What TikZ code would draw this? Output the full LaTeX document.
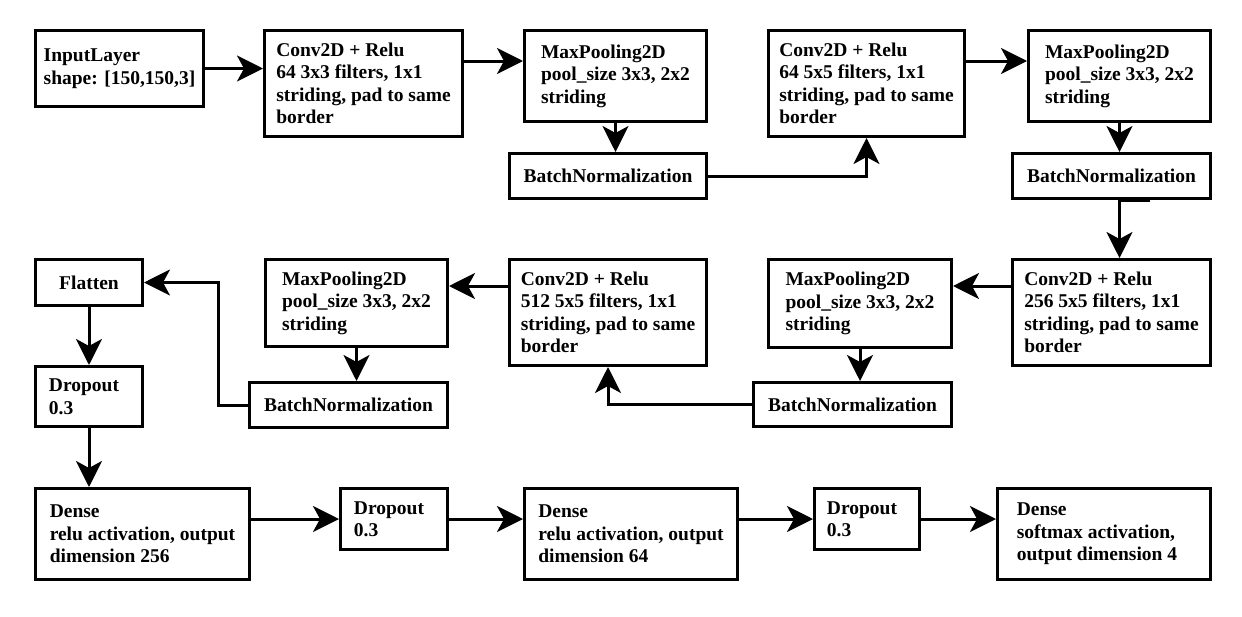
\documentclass[tikz,border=0pt]{standalone}
\usepackage{fontspec}
\setmainfont{Liberation Serif}
\usetikzlibrary{arrows.meta,calc}
\tikzset{
  layer/.style={draw, line width=3pt, fill=white, align=left, inner sep=0pt,
    font=\bfseries\fontsize{19.5}{22.5}\selectfont},
  conn/.style={line width=3pt, -{Stealth[length=26pt,width=26pt,inset=7pt]}},
}
\newcommand{\LayerBox}[6]{%
  \node[layer, minimum width={(#4-#2-3)*1pt}, minimum height={(#5-#3-3)*1pt}]
    (#1) at ({(#2+#4)/2},{(#3+#5)/2}) {#6};}
\begin{document}
\begin{tikzpicture}[x=1pt,y=-1pt]
\useasboundingbox[fill=white] (0,0) rectangle (1242,616);
% row 1
\LayerBox{in}{34}{29}{205}{108}{InputLayer\\shape: [150,150,3]}
\LayerBox{c1}{263}{29}{464}{138}{Conv2D + Relu\\64 3x3 filters, 1x1\\striding, pad to same\\border}
\LayerBox{mp1}{523}{29}{708}{123}{MaxPooling2D\\pool\_size 3x3, 2x2\\striding}
\LayerBox{bn1}{508}{152}{708}{200}{BatchNormalization}
\LayerBox{c2}{767}{29}{966}{138}{Conv2D + Relu\\64 5x5 filters, 1x1\\striding, pad to same\\border}
\LayerBox{mp2}{1027}{29}{1212}{123}{MaxPooling2D\\pool\_size 3x3, 2x2\\striding}
\LayerBox{bn2}{1011}{152}{1212}{200}{BatchNormalization}
% row 2
\LayerBox{c3}{1011}{258}{1212}{367}{Conv2D + Relu\\256 5x5 filters, 1x1\\striding, pad to same\\border}
\LayerBox{mp4}{767}{258}{953}{349}{MaxPooling2D\\pool\_size 3x3, 2x2\\striding}
\LayerBox{bn4}{752}{381}{953}{428}{BatchNormalization}
\LayerBox{c4}{508}{258}{708}{367}{Conv2D + Relu\\512 5x5 filters, 1x1\\striding, pad to same\\border}
\LayerBox{mp3}{264}{258}{449}{348}{MaxPooling2D\\pool\_size 3x3, 2x2\\striding}
\LayerBox{bn3}{248}{381}{449}{429}{BatchNormalization}
\LayerBox{fl}{34}{258}{144}{307}{Flatten}
\LayerBox{do1}{34}{365}{144}{428}{Dropout\hspace*{10pt}\\0.3}
% row 3
\LayerBox{d1}{34}{487}{251}{581}{Dense\\relu activation, output\hspace*{4pt}\\dimension 256}
\LayerBox{do2}{339}{487}{449}{551}{Dropout\hspace*{10pt}\\0.3}
\LayerBox{d2}{523}{487}{739}{581}{Dense\\relu activation, output\\dimension 64}
\LayerBox{do3}{813}{487}{921}{551}{Dropout\hspace*{10pt}\\0.3}
\LayerBox{d3}{996}{487}{1212}{581}{Dense\\softmax activation,\\output dimension 4\hspace*{14pt}}
% connectors
\draw[conn] (in.east) -- (in.east -| c1.west);
\draw[conn] ([yshift=-32pt]c1.north east) -- ([yshift=-32pt]c1.north east -| mp1.west);
\draw[conn] (mp1.south) -- (mp1.south |- bn1.north);
\draw[conn] (bn1.east) -| (c2.south);
\draw[conn] ([yshift=-32pt]c2.north east) -- ([yshift=-32pt]c2.north east -| mp2.west);
\draw[conn] (mp2.south) -- (mp2.south |- bn2.north);
\draw[conn] (mp2.south |- bn2.south) -- (mp2.south |- c3.north);
\draw[line width=2pt] ([yshift=-1pt]mp2.south |- bn2.south) -- ++(30,0);
\draw[conn] ([yshift=-28pt]c3.north west) -- ([yshift=-28pt]c3.north west -| mp4.east);
\draw[conn] (mp4.south) -- (mp4.south |- bn4.north);
\draw[conn] (bn4.west) -| (c4.south);
\draw[conn] ([yshift=-28pt]c4.north west) -- ([yshift=-28pt]c4.north west -| mp3.east);
\draw[conn] (mp3.south) -- (mp3.south |- bn3.north);
\draw[conn] (bn3.west) -- ++(-30,0) |- (fl.east);
\draw[conn] (fl.south) -- (do1.north);
\draw[conn] (do1.south) -- (do1.south |- d1.north);
\draw[conn] (d1.east |- do2.west) -- (do2.west);
\draw[conn] (do2.east) -- (do2.east -| d2.west);
\draw[conn] (d2.east |- do3.west) -- (do3.west);
\draw[conn] (do3.east) -- (do3.east -| d3.west);
\end{tikzpicture}
\end{document}
